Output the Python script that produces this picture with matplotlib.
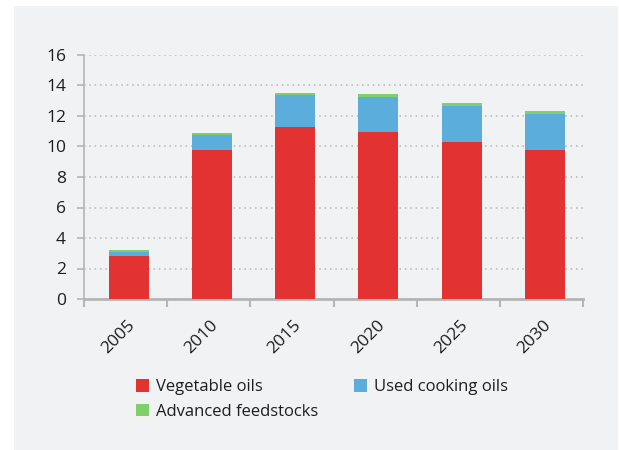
import matplotlib.pyplot as plt
import matplotlib.transforms as mtransforms
from matplotlib.patches import Rectangle
import numpy as np

years = ['2005', '2010', '2015', '2020', '2025', '2030']
veg_oils = [2.8, 9.75, 11.25, 10.95, 10.3, 9.8]
used_cooking = [0.25, 1.0, 2.15, 2.3, 2.35, 2.3]
advanced = [0.14, 0.13, 0.13, 0.2, 0.2, 0.2]

plt.rcParams['font.family'] = ['Open Sans', 'DejaVu Sans']

fig = plt.figure(figsize=(6.19, 4.5), dpi=100)
fig.patch.set_facecolor('white')
# light grey panel behind the chart
fig.patches.append(Rectangle((14 / 619, 0), (604 / 619), 1 - 6 / 450, transform=fig.transFigure,
                             facecolor='#f1f2f4', edgecolor='none', zorder=-1))

ax = fig.add_axes([84 / 619, 1 - 299 / 450, (583 - 84) / 619, (299 - 55) / 450])
ax.set_facecolor('none')

x = np.arange(len(years))
w = 0.48
veg = np.array(veg_oils)
uco = np.array(used_cooking)
adv = np.array(advanced)
b1 = ax.bar(x, veg, w, color='#e33232', label='Vegetable oils', zorder=3)
b2 = ax.bar(x, uco, w, bottom=veg, color='#5baedb', label='Used cooking oils', zorder=3)
b3 = ax.bar(x, adv, w, bottom=veg + uco, color='#7fd06a', label='Advanced feedstocks', zorder=3)

# bars sit slightly right of the category centres in the original
off = 0.04
ax.set_xlim(-0.5 - off, len(years) - 0.5 - off)
ax.set_ylim(0, 16)
ax.set_yticks(range(0, 17, 2))
ax.yaxis.grid(True, linestyle=(0, (1, 2.5)), color='#b5b5b5', linewidth=1.1)
ax.set_axisbelow(True)

ax.set_xticks(x - off)
ax.set_xticklabels(years, rotation=45, ha='center', va='top')
ax.tick_params(axis='x', length=0, labelsize=12.5, pad=13, colors='#1e1e1e')
shift = mtransforms.ScaledTranslation(-7 / 100, 0, fig.dpi_scale_trans)
for lab in ax.get_xticklabels():
    lab.set_transform(lab.get_transform() + shift)
ax.set_xticks(np.arange(-0.5, len(years)) - off, minor=True)
ax.tick_params(axis='x', which='minor', length=6, width=1.5, color='#b5b5b5')
ax.tick_params(axis='y', length=5, width=1.2, color='#b5b5b5', labelsize=12.5, pad=8,
               labelcolor='#1e1e1e')

for s in ['top', 'right']:
    ax.spines[s].set_visible(False)
ax.spines['left'].set_color('#b5b5b5')
ax.spines['left'].set_linewidth(1.2)
ax.spines['bottom'].set_color('#b5b5b5')
ax.spines['bottom'].set_linewidth(2)

# order so that the legend reads row by row
handles = [b1, b3, b2]
labels = ['Vegetable oils', 'Advanced feedstocks', 'Used cooking oils']
leg = fig.legend(handles, labels, loc='upper left', bbox_to_anchor=(121 / 619, 1 - 364 / 450),
                 ncol=2, frameon=False, fontsize=12, handlelength=0.8, handleheight=0.8,
                 handletextpad=0.42, columnspacing=2.1, labelspacing=0.5)
for t in leg.get_texts():
    t.set_color('#1e1e1e')

fig.savefig('out.png', dpi=100)
